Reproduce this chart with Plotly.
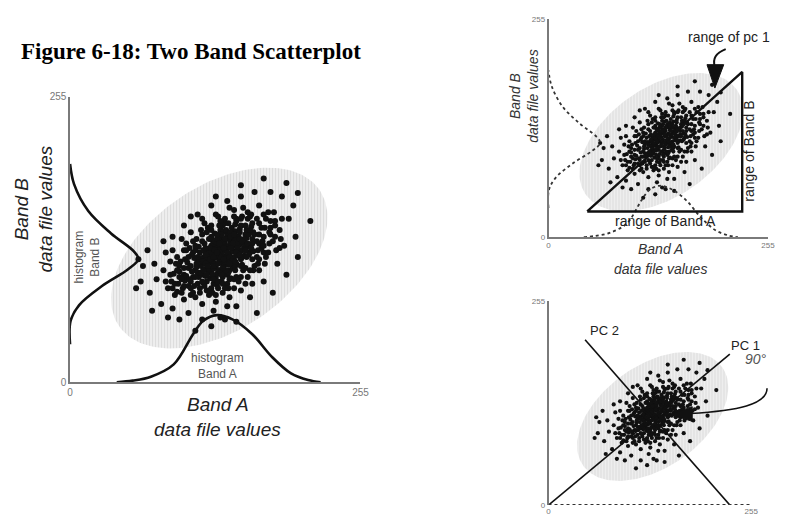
import numpy as np
import plotly.graph_objects as go

# page body has an 8px margin; the figure is sized to fit the 787x524 window
OFF = 8
W, H = 787 - 2 * OFF, 524 - 2 * OFF

# ---------------- data (band A, band B data file values, 0..255) ----------------
CORE_PTS = [
    (130,112),(125,108),(135,118),(140,115),(120,105),(128,120),(138,110),(132,100),(145,122),(118,112),
    (122,98),(142,128),(150,118),(126,115),(134,106),(110,100),(148,130),(136,124),(116,96),(128,102),
    (144,112),(124,122),(138,132),(152,126),(112,108),(130,128),(146,106),(120,90),(134,94),(156,134),
    (108,94),(140,100),(126,88),(150,110),(160,124),(114,116),(132,136),(142,138),(104,102),(118,124),
    (154,140),(128,94),(138,88),(146,94),(124,130),(162,132),(100,96),(112,88),(136,142),(158,116),
    (122,114),(131,109),(127,111),(139,121),(133,126),(143,117),(119,101),(129,97),(147,127),(123,107),
    (137,113),(141,109),(115,104),(125,119),(135,104),(149,123),(121,117),(113,94),(131,121),(145,135),
    (127,106),(133,114),(137,119),(129,123),(121,109),(141,125),(125,101),(139,105),(117,118),(143,131),
    (131,117),(135,98),(147,113),(153,120),(119,95),(111,103),(137,129),(127,133),(155,129),(109,111),
    (123,93),(133,90),(143,102),(151,105),(157,121),(113,121),(103,107),(145,141),(135,135),(125,127),
    (117,89),(107,99),(149,137),(159,139),(161,117),(129,87),(141,93),(153,113),(101,91),(115,111),
    (126,104),(132,112),(138,116),(124,116),(130,106),(136,108),(142,120),(120,112),(128,114),(134,122),
    (146,124),(122,102),(140,112),(116,108),(148,116),(130,118),(126,124),(144,128),(112,98),(138,96),
    (154,132),(106,90),(132,130),(118,86),(150,140),(108,116),(142,106),(124,84),(160,128),(134,140),
    (117,108),(119,114),(123,120),(127,126),(133,132),(137,136),(143,124),(147,120),(151,118),(153,128),
    (157,132),(139,128),(135,126),(129,128),(125,114),(121,100),(127,92),(133,96),(139,98),(145,104),
    (151,112),(149,128),(141,134),(131,124),(123,110),(119,106),(137,100),(143,110),(153,124),(157,114),
]
SPREAD_PTS = [
    (90,84),(91,97),(93,106),(89,90),(95,88),(96,99),(97,108),(94,81),(96,94),
    (100,102),(101,110),(99,84),(102,95),(100,118),(105,92),(106,104),(104,86),(107,114),(105,120),(106,78),
    (110,94),(111,106),(109,86),(112,112),(110,118),(111,128),(115,98),(116,90),(114,84),(116,126),(115,136),(117,100),
    (120,96),(121,104),(119,120),(122,128),(120,82),(121,138),(125,96),(126,112),(124,136),(126,92),(125,80),(127,118),
    (130,90),(131,100),(129,132),(131,140),(130,84),(129,116),(135,110),(136,128),(134,88),(136,146),(135,120),(134,102),
    (140,106),(141,130),(139,142),(140,92),(141,120),(139,84),(145,100),(146,116),(144,132),(146,146),(145,108),(144,92),
    (150,104),(151,126),(149,134),(150,94),(151,148),(149,114),(155,112),(156,124),(154,102),(156,146),(155,136),(154,118),
    (160,110),(161,134),(159,120),(160,142),(161,100),(159,150),(165,118),(166,132),(164,146),(165,106),(166,124),
    (170,116),(171,138),(169,126),(170,150),(171,106),(175,124),(176,144),(174,116),(175,134),
    (180,130),(181,118),(179,152),(180,140),(185,128),(186,146),(184,120),
]
MID_PTS = [
    (96,104),(92,88),(98,80),(106,84),(88,96),(102,118),(108,126),(94,112),(116,132),(124,140),
    (166,142),(170,130),(164,112),(172,146),(176,138),(158,148),(150,146),(144,148),(168,120),(162,104),
    (152,100),(156,94),(144,84),(134,80),(122,78),(110,76),(100,74),(116,70),(128,72),(140,76),
    (86,84),(82,100),(90,118),(98,128),(106,134),(118,142),(128,150),(140,156),(152,156),(166,158),
    (174,152),(180,144),(178,126),(184,136),(172,112),(166,100),(160,88),(150,82),(138,68),(126,64),
    (98,92),(94,100),(104,112),(110,122),(120,134),(132,144),(146,144),(158,136),(164,126),(166,110),
    (158,100),(148,90),(136,84),(122,82),(108,80),(92,78),(100,86),(114,80),(128,78),(154,88),
    (170,122),(176,132),(168,138),(156,152),(144,154),(130,148),(116,146),(102,124),(88,108),(84,90),
]
OUTER_PTS = [
    (76,92),(70,80),(62,90),(74,106),(80,70),(90,66),(104,62),(116,56),(132,58),(146,68),
    (158,76),(170,90),(182,106),(188,122),(192,146),(196,158),(186,166),(176,170),(162,170),(150,166),
    (138,162),(124,158),(112,150),(100,140),(90,130),(84,116),(64,104),(58,84),(72,64),(96,56),
    (110,46),(146,54),(164,62),(178,80),(190,96),(198,130),(211,144),(200,169),(190,178),(170,182),
    (150,176),(128,166),(106,148),(82,126),(68,118),(60,110),(86,58),(124,50),(136,56),(200,112),
]

# histogram curves
BAND_A_X = [41, 55, 71, 91, 108, 117, 129, 143, 160, 177, 194, 209, 220]
BAND_A_H = [0, 1.5, 5, 16, 43, 55, 60, 56, 43, 23, 8, 2, 0]
BAND_B_Y = [34, 55, 69, 86, 101, 110, 117, 133, 153, 177, 195]
BAND_B_H = [0, 0.5, 8, 28, 51, 60, 56, 36, 16, 3.5, 0]

# ellipse of the data distribution
ELL_CX, ELL_CY, ELL_A, ELL_B, ELL_ANGLE = 131, 111, 107, 64, 35

# range triangle (panel 2) and principal component axes (panel 3)
TRI_X = [45, 225, 225, 45]
TRI_Y = [30, 30, 193, 30]
PC1_X = [0, 228]
PC1_Y = [0, 189]
PC2_X = [46, 228]
PC2_Y = [207, 0]

AXIS_TICKS = [0, 255]

# ---------------------------------------------------------------------------
ALL_PTS = CORE_PTS + SPREAD_PTS + MID_PTS + OUTER_PTS
PX = [p[0] for p in ALL_PTS]
PY = [p[1] for p in ALL_PTS]

t = np.linspace(0, 2 * np.pi, 160)
th = np.radians(ELL_ANGLE)
EX = ELL_CX + ELL_A * np.cos(t) * np.cos(th) - ELL_B * np.sin(t) * np.sin(th)
EY = ELL_CY + ELL_A * np.cos(t) * np.sin(th) + ELL_B * np.sin(t) * np.cos(th)

SANS = "Liberation Sans"
fig = go.Figure()

panels = [("x", "y", 6.0), ("x2", "y2", 4.2), ("x3", "y3", 4.2)]
for xa, ya, msize in panels:
    fig.add_trace(go.Scatter(
        x=EX, y=EY, mode="lines", fill="toself", line=dict(width=0),
        fillcolor="#e8e8e8",
        fillpattern=dict(shape="|", fgcolor="#c9c9c9", bgcolor="#eeeeee", size=3, solidity=0.35),
        xaxis=xa, yaxis=ya, hoverinfo="skip"))
    fig.add_trace(go.Scatter(
        x=PX, y=PY, mode="markers",
        marker=dict(size=msize, color="#111111", line=dict(width=0)),
        xaxis=xa, yaxis=ya, hoverinfo="skip"))

# panel 1 histograms (solid)
fig.add_trace(go.Scatter(x=BAND_A_X, y=BAND_A_H, mode="lines",
                         line=dict(color="#111", width=2.6, shape="spline"),
                         xaxis="x", yaxis="y", hoverinfo="skip"))
fig.add_trace(go.Scatter(x=BAND_B_H, y=BAND_B_Y, mode="lines",
                         line=dict(color="#111", width=2.6, shape="spline"),
                         xaxis="x", yaxis="y", hoverinfo="skip"))
# panel 2 histograms (dotted)
fig.add_trace(go.Scatter(x=BAND_A_X, y=BAND_A_H, mode="lines",
                         line=dict(color="#333", width=1.8, shape="spline", dash="dot"),
                         xaxis="x2", yaxis="y2", hoverinfo="skip"))
fig.add_trace(go.Scatter(x=BAND_B_H, y=BAND_B_Y, mode="lines",
                         line=dict(color="#333", width=1.8, shape="spline", dash="dot"),
                         xaxis="x2", yaxis="y2", hoverinfo="skip"))
# panel 2 triangle
fig.add_trace(go.Scatter(x=TRI_X, y=TRI_Y, mode="lines",
                         line=dict(color="#111", width=2.4),
                         xaxis="x2", yaxis="y2", hoverinfo="skip"))
# panel 3 PC axes
fig.add_trace(go.Scatter(x=PC1_X, y=PC1_Y, mode="lines", line=dict(color="#111", width=1.6),
                         xaxis="x3", yaxis="y3", hoverinfo="skip"))
fig.add_trace(go.Scatter(x=PC2_X, y=PC2_Y, mode="lines", line=dict(color="#111", width=1.6),
                         xaxis="x3", yaxis="y3", hoverinfo="skip"))


def px(x):
    return (x - OFF) / W


def py(y):
    return 1 - (y - OFF) / H


def axis(dom, anchor, line=True, size=10):
    return dict(domain=dom, anchor=anchor, range=[0, 255], showgrid=False, zeroline=False,
                showline=line, linecolor="#7a7a7a", linewidth=1.5, ticks="",
                tickvals=AXIS_TICKS, ticktext=[str(v) for v in AXIS_TICKS],
                tickfont=dict(family=SANS, size=size, color="#777"), fixedrange=True)


layout_axes = dict(
    xaxis=axis([px(68), px(363)], "y"),
    yaxis=axis([py(386), py(93)], "x"),
    xaxis2=axis([px(554), px(777)], "y2", size=8),
    yaxis2=axis([py(237), py(13)], "x2", size=8),
    xaxis3=axis([px(554), px(760)], "y3", line=False, size=8),
    yaxis3=axis([py(512), py(303)], "x3", size=8),
)


def ann(text, x, y, size, angle=0, color="#111", family=SANS, xanchor="center"):
    return dict(text=text, x=px(x), y=py(y), xref="paper", yref="paper", showarrow=False,
                textangle=angle, xanchor=xanchor, yanchor="middle",
                font=dict(family=family, size=size, color=color))


annotations = [
    ann("<b>Figure 6-18: Two Band Scatterplot</b>", 191, 46, 23, family="Liberation Serif", color="#000"),
    ann("<i>Band B</i><br><i>data file values</i>", 31, 208, 19, angle=-90, color="#222"),
    ann("histogram<br>Band B", 85, 257, 12, angle=-90, color="#555"),
    ann("histogram<br>Band A", 218, 369, 12, color="#555"),
    ann("<i>Band A</i>", 218, 409, 19, color="#222"),
    ann("<i>data file values</i>", 218, 434, 19, color="#222"),
    # panel 2
    ann("<i>Band B</i><br><i>data file values</i>", 529, 92, 14, angle=-90, color="#333"),
    ann("<i>Band A</i>", 668, 249, 14, color="#333"),
    ann("<i>data file values</i>", 668, 270, 14, color="#333"),
    ann("range of pc 1", 737, 32, 14, color="#222"),
    ann("range of Band A", 673, 220, 14, color="#222"),
    ann("range of Band B", 758, 149, 14, angle=-90, color="#222"),
    # panel 3
    ann("PC 2", 611, 333, 13, color="#222"),
    ann("PC 1", 754, 348, 13, color="#222"),
    ann("<i>90°</i>", 778, 362, 14, color="#555", xanchor="right"),
]

shapes = [
    # dotted x axis of panel 3
    dict(type="line", xref="x3", yref="y3", x0=0, x1=255, y0=0, y1=0,
         line=dict(color="#333", width=2, dash="dot")),
    # curved arrow, panel 2
    dict(type="path", xref="paper", yref="paper",
         path=f"M {px(734)},{py(44)} Q {px(719)},{py(50)} {px(723)},{py(62)}",
         line=dict(color="#111", width=2)),
    dict(type="path", xref="paper", yref="paper",
         path=f"M {px(715)},{py(60)} L {px(732)},{py(60)} L {px(723)},{py(84)} Z",
         fillcolor="#111", line=dict(color="#111", width=1)),
    # curved arrow, panel 3
    dict(type="path", xref="paper", yref="paper",
         path=f"M {px(776)},{py(392)} C {px(776)},{py(409)} {px(746)},{py(415)} {px(698)},{py(418)}",
         line=dict(color="#111", width=1.6)),
    dict(type="path", xref="paper", yref="paper",
         path=f"M {px(700)},{py(411)} L {px(700)},{py(426)} L {px(678)},{py(419)} Z",
         fillcolor="#111", line=dict(color="#111", width=1)),
]

fig.update_layout(
    width=W, height=H, margin=dict(l=0, r=0, t=0, b=0),
    paper_bgcolor="white", plot_bgcolor="white", showlegend=False,
    annotations=annotations, shapes=shapes, **layout_axes,
)

fig.write_html("out.html")
